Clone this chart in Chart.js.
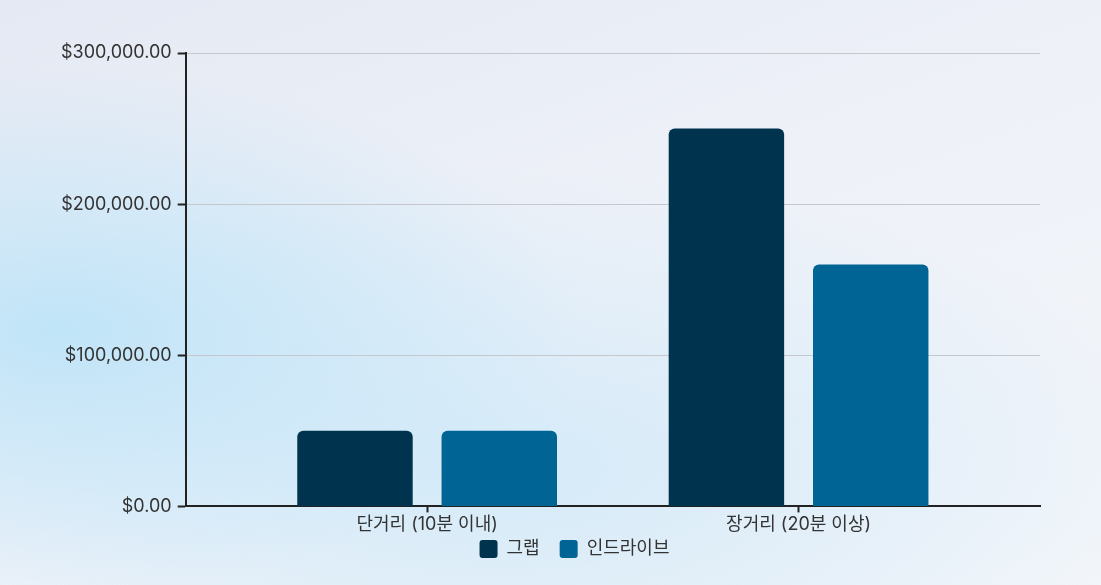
<!DOCTYPE html>
<html>
<head>
<meta charset="utf-8">
<script src="https://cdn.jsdelivr.net/npm/chart.js@4.4.1/dist/chart.umd.min.js"></script>
<style>
  html, body { margin: 0; padding: 0; }
  body {
    width: 1101px; height: 585px; overflow: hidden;
    background:
      radial-gradient(ellipse 520px 260px at 60px 330px, rgba(190,228,248,0.95), rgba(190,228,248,0) 100%),
      radial-gradient(ellipse 700px 300px at 500px 470px, rgba(205,232,248,0.8), rgba(205,232,248,0) 100%),
      linear-gradient(160deg, #e4e9f3 0%, #eef1f8 45%, #f4f6fa 100%);
  }
  #wrap { position: relative; width: 1101px; height: 585px; }
</style>
</head>
<body>
<div id="wrap"><canvas id="myChart"></canvas></div>
<script>
// categories and series
var categories = ["단거리 (10분 이내)", "장거리 (20분 이상)"];
var grabValues = [50000, 250000];
var indriveValues = [50000, 160000];
var seriesNames = ["그랩", "인드라이브"];
var yTicks = [0, 100000, 200000, 300000];

function money(v) {
    return "$" + v.toLocaleString("en-US", {minimumFractionDigits: 2, maximumFractionDigits: 2});
}

Chart.defaults.font.family = "Inter, 'Noto Sans CJK KR', sans-serif";
Chart.defaults.font.size = 18;
Chart.defaults.color = "#333333";

//pull the legend closer to the axis labels and a bit to the right
var legendNudge = {
    id: 'legendNudge',
    afterLayout: function (chart) {
        chart.legend.top -= 16;
        chart.legend.bottom -= 16;
        chart.legend.left += 27;
        chart.legend.right += 27;
    }
};

var ctx = document.getElementById('myChart').getContext('2d');

var myBarChart = new Chart(ctx, {
    type: 'bar',
    data: {
        labels: categories,
        datasets: [{
            label: seriesNames[0],
            backgroundColor: '#00334e',
            data: grabValues,
            borderRadius: 6,
            borderSkipped: 'bottom'
        }, {
            label: seriesNames[1],
            backgroundColor: '#006494',
            data: indriveValues,
            borderRadius: 6,
            borderSkipped: 'bottom'
        }]
    },
    plugins: [legendNudge],
    options: {
        responsive: true,
        maintainAspectRatio: false,
        animation: false,
        categoryPercentage: 0.777,
        barPercentage: 0.8,
        layout: {padding: {left: 55, right: 61, top: 53, bottom: 1}},
        plugins: {
            tooltip: {enabled: false},
            legend: {
                position: 'bottom',
                labels: {
                    boxWidth: 18,
                    boxHeight: 18,
                    useBorderRadius: true,
                    borderRadius: 3,
                    padding: 20,
                    color: '#333333'
                }
            }
        },
        scales: {
            x: {
                offset: true,
                afterBuildTicks: function (scale) {
                    // wider side margins than the default half category
                    scale._startValue = -0.65;
                    scale._valueRange = 2.3;
                },
                border: {display: true, color: '#222222', width: 2},
                grid: {display: true, offset: false, drawOnChartArea: false, color: '#222222', tickLength: 6, tickWidth: 2},
                ticks: {padding: 1, color: '#333333', maxRotation: 0}
            },
            y: {
                min: 0,
                max: 300000,
                afterBuildTicks: function (scale) {
                    scale.ticks = yTicks.map(function (v) { return {value: v}; });
                },
                border: {display: true, color: '#222222', width: 2},
                grid: {color: '#c5c7cc', lineWidth: 1, tickColor: '#222222', tickLength: 8, tickWidth: 2},
                ticks: {padding: 6, color: '#333333', callback: function (v) { return money(v); }}
            }
        }
    }
});
</script>
</body>
</html>
